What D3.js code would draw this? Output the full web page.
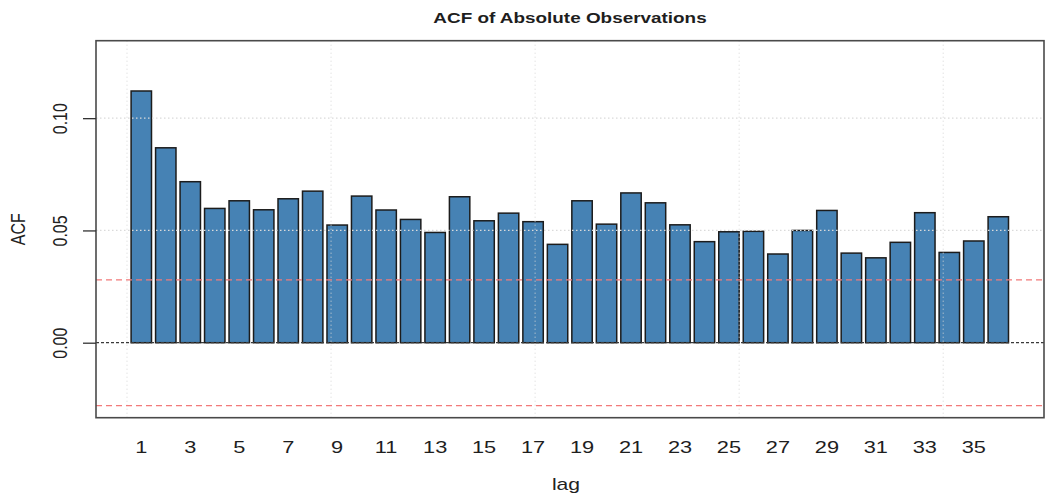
<!DOCTYPE html>
<html lang="en">
<head>
    <meta charset="UTF-8">
    <title>ACF of Absolute Observations</title>
    <style>
        body {
            margin: 0;
            padding: 0;
            background-color: #fff;
            font-family: 'Liberation Sans', Arial, sans-serif;
        }
        svg { display: block; }
    </style>
</head>
<body>
    <div id="chart"></div>

    <script src="https://d3js.org/d3.v7.min.js"></script>
    <script>
        const lags = [1, 2, 3, 4, 5, 6, 7, 8, 9, 10, 11, 12, 13, 14, 15, 16, 17, 18,
                      19, 20, 21, 22, 23, 24, 25, 26, 27, 28, 29, 30, 31, 32, 33, 34, 35, 36];
        const acfValues = [0.1121, 0.0868, 0.0717, 0.0598, 0.0632, 0.0592, 0.0641, 0.0675, 0.0524,
                           0.0653, 0.0591, 0.0549, 0.0491, 0.0650, 0.0543, 0.0577, 0.0539, 0.0438,
                           0.0632, 0.0528, 0.0667, 0.0623, 0.0525, 0.0450, 0.0494, 0.0496, 0.0395,
                           0.0500, 0.0589, 0.0399, 0.0378, 0.0447, 0.0579, 0.0402, 0.0453, 0.0561];
        const xTickLabels = [1, 3, 5, 7, 9, 11, 13, 15, 17, 19, 21, 23, 25, 27, 29, 31, 33, 35];
        const yTicks = [0, 0.05, 0.10];
        const gridX = [0, 10, 20, 30, 40];   // barplot coordinates
        const ciBound = 0.028;

        const W = 1060, H = 496;
        const box = { left: 96, right: 1044, top: 40.7, bottom: 417.7 };
        const stretch = 1.32;   // the picture is drawn a bit wide

        const svg = d3.select("#chart").append("svg")
            .attr("width", W)
            .attr("height", H);

        svg.append("rect").attr("width", W).attr("height", H).attr("fill", "#fff");

        // barplot style positions: bar i centred at 0.7 + 1.2*(i-1), width 1
        const barPos = lag => 0.7 + 1.2 * (lag - 1);
        const x = d3.scaleLinear().domain([-1.52, 44.94]).range([box.left, box.right]);
        const y = d3.scaleLinear().domain([-0.0334, 0.1345]).range([box.bottom, box.top]);

        const data = lags.map((l, i) => ({ lag: l, value: acfValues[i] }));

        // bars
        svg.selectAll(".bar")
            .data(data)
            .enter().append("rect")
            .attr("class", "bar")
            .attr("x", d => x(barPos(d.lag) - 0.5))
            .attr("width", x(1) - x(0))
            .attr("y", d => y(d.value))
            .attr("height", d => y(0) - y(d.value))
            .attr("fill", "#4682b4")
            .attr("stroke", "#1c1c1c")
            .attr("stroke-width", 1.5);

        // grid on top of bars
        svg.selectAll(".grid-x")
            .data(gridX)
            .enter().append("line")
            .attr("x1", d => x(d)).attr("x2", d => x(d))
            .attr("y1", box.top).attr("y2", box.bottom)
            .attr("stroke", "#d6d6d6")
            .attr("stroke-dasharray", "1,3");

        svg.selectAll(".grid-y")
            .data(yTicks.filter(d => d !== 0))
            .enter().append("line")
            .attr("x1", box.left).attr("x2", box.right)
            .attr("y1", d => y(d)).attr("y2", d => y(d))
            .attr("stroke", "#dadada")
            .attr("stroke-width", 1.2)
            .attr("stroke-dasharray", "1.5,2.5");

        // zero line
        svg.append("line")
            .attr("x1", box.left).attr("x2", box.right)
            .attr("y1", y(0)).attr("y2", y(0))
            .attr("stroke", "#3a3a3a")
            .attr("stroke-width", 1.3)
            .attr("stroke-dasharray", "3,2");

        // confidence bounds
        svg.selectAll(".ci")
            .data([ciBound, -ciBound])
            .enter().append("line")
            .attr("x1", box.left).attr("x2", box.right)
            .attr("y1", d => y(d)).attr("y2", d => y(d))
            .attr("stroke", "#f27a7a")
            .attr("stroke-width", 1.2)
            .attr("stroke-dasharray", "6,4");

        // box
        svg.append("rect")
            .attr("x", box.left).attr("y", box.top)
            .attr("width", box.right - box.left)
            .attr("height", box.bottom - box.top)
            .attr("fill", "none")
            .attr("stroke", "#4a4a4a")
            .attr("stroke-width", 1.6);

        // y axis
        const yAxis = svg.append("g")
            .attr("transform", `translate(${box.left},0)`)
            .call(d3.axisLeft(y).tickValues(yTicks).tickSize(13).tickFormat(d3.format(".2f")));
        yAxis.select(".domain").remove();
        yAxis.selectAll(".tick line").attr("stroke", "#333").attr("stroke-width", 1.3);
        yAxis.selectAll(".tick text").remove();

        yAxis.selectAll(".tick").append("text")
            .attr("transform", `translate(${66.5 - box.left},0) scale(${stretch},1) rotate(-90)`)
            .attr("text-anchor", "middle")
            .attr("fill", "#222")
            .style("font-size", "16px")
            .style("font-family", "'Liberation Sans', Arial, sans-serif")
            .text(d => d3.format(".2f")(d));

        // x tick labels
        svg.selectAll(".xlab")
            .data(xTickLabels)
            .enter().append("text")
            .attr("transform", d => `translate(${x(barPos(d))},452.5) scale(${stretch},1)`)
            .attr("text-anchor", "middle")
            .attr("fill", "#1e1e1e")
            .style("font-size", "16.5px")
            .text(d => d);

        // axis titles
        svg.append("text")
            .attr("transform", `translate(25,${(box.top + box.bottom) / 2}) scale(${stretch},1) rotate(-90)`)
            .attr("text-anchor", "middle")
            .attr("fill", "#222")
            .style("font-size", "16px")
            .text("ACF");

        svg.append("text")
            .attr("transform", `translate(566,490) scale(${stretch},1)`)
            .attr("text-anchor", "middle")
            .attr("fill", "#222")
            .style("font-size", "16px")
            .text("lag");

        svg.append("text")
            .attr("transform", `translate(${(box.left + box.right) / 2},22.5) scale(1.35,1)`)
            .attr("text-anchor", "middle")
            .attr("fill", "#1e1e1e")
            .style("font-size", "14px")
            .style("font-weight", "bold")
            .text("ACF of Absolute Observations");
    </script>
</body>
</html>
